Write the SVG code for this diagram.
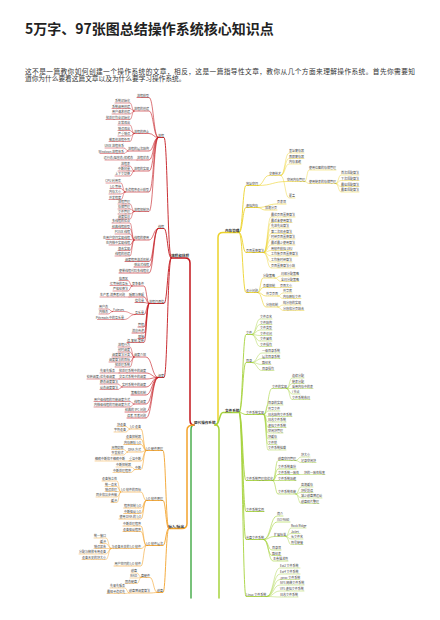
<svg xmlns="http://www.w3.org/2000/svg" width="440" height="620" viewBox="0 0 440 620">
<style>
.t{font-family:"Noto Sans CJK SC","Noto Sans",sans-serif;font-size:3px;fill:#444}
.e{text-anchor:end}
.m{font-size:3.6px;font-weight:700;fill:#333}
.k{fill:none;stroke-linecap:round}
.R{stroke:#c3161c}.O{stroke:#f3a32b}.Y{stroke:#ecd22a}.L{stroke:#a6d33c}.G{stroke:#4caf50}
.w1{stroke-width:1.5}.w2{stroke-width:.9}.w3{stroke-width:.6}.w4{stroke-width:.45}
.hd{font-family:"Noto Sans CJK SC",sans-serif;font-size:14px;font-weight:700;fill:#222}
.p{font-family:"Liberation Sans","Noto Sans CJK SC",sans-serif;font-size:6.7px;fill:#333}
</style>
<rect width="440" height="620" fill="#fff"/>
<g id="title"><text class="hd" x="25" y="34">5万字、97张图总结操作系统核心知识点</text></g>
<g id="intro"><text class="p" x="25" y="73.6" textLength="390" lengthAdjust="spacing">这不是一篇教你如何创建一个操作系统的文章，相反，这是一篇指导性文章，教你从几个方面来理解操作系统。首先你需要知</text><text class="p" x="25" y="80.9">道你为什么要看这篇文章以及为什么要学习操作系统。</text></g>

<g id="connectors" class="k">
<path class="G w1" d="M194 425Q191 425 191 430V598"/>
<path class="L w1" d="M215 425Q219 425 219 430V598"/>
<path class="R w1" d="M194 425Q190 425 190 420V263Q190 258 185 258H171"/>
<path class="O w1" d="M194 425Q187 425 187 430V523.5Q187 528.5 182 528.5H168.5"/>
<path class="Y w1" d="M215 425Q218 425 218 420V237.5Q218 232.5 223 232.5H239.4"/>
<path class="L w1" d="M215 425C220 425 219 412.5 223 412.5H239.4"/>
<path class="R w2" d="M171 258C167.5 258 167.5 137.5 164 137.5H158M171 258C167.5 258 167.5 228.5 164 228.5H158M171 258C167.5 258 167.5 303.5 164 303.5H149M171 258C167.5 258 167.5 377.5 164 377.5H158"/>
<path class="R w3" d="M158 137.5C153.5 137.5 153.5 97.5 149 97.5H137M158 137.5C153.5 137.5 153.5 111 149 111H134M158 137.5C153.5 137.5 153.5 133.5 149 133.5H134M158 137.5C153.5 137.5 153.5 151 149 151H128M158 137.5C153.5 137.5 153.5 160 149 160H137M158 137.5C153.5 137.5 153.5 171 149 171H134M158 137.5C153.5 137.5 153.5 192 149 192H125M158 137.5C153.5 137.5 153.5 211.5 149 211.5H134M158 228.5C153.5 228.5 153.5 240 149 240H134M158 228.5C153.5 228.5 153.5 261.5 149 261.5H125M158 228.5C153.5 228.5 153.5 267 149 267H134M158 228.5C153.5 228.5 153.5 273 149 273H119M149 303.5C146.5 303.5 146.5 286 144 286H132M149 303.5C146.5 303.5 146.5 297 144 297H129M149 303.5C146.5 303.5 146.5 302.5 144 302.5H135M149 303.5C146.5 303.5 146.5 314.5 144 314.5H135M149 303.5C146.5 303.5 146.5 327 144 327H138M149 303.5C146.5 303.5 146.5 333 144 333H132M149 303.5C146.5 303.5 146.5 338.5 144 338.5H138M149 303.5C146.5 303.5 146.5 342.5 144 342.5H127M158 377.5C152 377.5 152 357 146 357H134M158 377.5C152 377.5 152 373 146 373H119M158 377.5C152 377.5 152 379 146 379H119M158 377.5C152 377.5 152 387 146 387H122M158 377.5C152 377.5 152 395 146 395H131M158 377.5C152 377.5 152 404 146 404H134M158 377.5C152 377.5 152 412 146 412H125M158 377.5C152 377.5 152 418 146 418H127"/>
<path class="R w4" d="M134 111C132 111 132 103 130 103H115M134 111C132 111 132 108.5 130 108.5H112M134 111C132 111 132 114 130 114H112M134 111C132 111 132 119.5 130 119.5H106M134 133.5C132 133.5 132 125 130 125H118M134 133.5C132 133.5 132 130.5 130 130.5H118M134 133.5C132 133.5 132 136 130 136H118M134 133.5C132 133.5 132 141.5 130 141.5H109M128 151C126 151 126 148 124 148H105M128 151C126 151 126 153.5 124 153.5H100M137 160H105M134 171C132 171 132 166 130 166H121M134 171H118M134 171C132 171 132 176 130 176H115M125 192C123 192 123 183 121 183H106M125 192C123 192 123 188.5 121 188.5H110M125 192C123 192 123 194 121 194H109M125 192C123 192 123 199.5 121 199.5H109M134 211.5C132 211.5 132 204 130 204H118M134 211.5C132 211.5 132 209 130 209H118M134 211.5C132 211.5 132 214 130 214H118M134 211.5C132 211.5 132 219 130 219H118M134 240C132 240 132 223 130 223H112M134 240C132 240 132 228.5 130 228.5H112M134 240C132 240 132 234 130 234H115M134 240C132 240 132 239.5 130 239.5H106M134 240C132 240 132 245 130 245H109M134 240C132 240 132 250.5 130 250.5H118M134 240C132 240 132 256 130 256H115M132 286C130 286 130 280.5 128 280.5H119M132 286C130 286 130 285.5 128 285.5H110M132 286C130 286 130 291 128 291H113M129 297H100M135 314.5C129.5 314.5 129.5 311.5 124 311.5H112.5M135 314.5C129.5 314.5 129.5 319.5 124 319.5H97.5M112.5 311.5C110.2 311.5 110.2 309 108 309H99M112.5 311.5C110.2 311.5 110.2 314 108 314H99M134 357C132 357 132 347 130 347H118M134 357C132 357 132 352 130 352H118M134 357H112M134 357C132 357 132 362 130 362H109M134 357C132 357 132 367 130 367H115M119 373H100M119 379H87M122 387C120 387 120 384 118 384H100M122 387C120 387 120 389.5 118 389.5H100M134 404C132 404 132 401.5 130 401.5H94M134 404C132 404 132 407 130 407H94"/>
<path class="O w2" d="M168.5 528.5C165.8 528.5 165.8 450.5 163 450.5H146M168.5 528.5C165.8 528.5 165.8 500.5 163 500.5H146M168.5 528.5C165.8 528.5 165.8 545.5 163 545.5H146M168.5 528.5C165.8 528.5 165.8 592.5 163 592.5H157"/>
<path class="O w3" d="M146 450.5C143.5 450.5 143.5 429 141 429H129.7M146 450.5C143.5 450.5 143.5 439 141 439H126M146 450.5C143.5 450.5 143.5 444.5 141 444.5H123.7M146 450.5C143.5 450.5 143.5 452 141 452H127.5M146 450.5C143.5 450.5 143.5 461 141 461H129M146 450.5C143.5 450.5 143.5 469.5 141 469.5H135M146 500.5C143.5 500.5 143.5 492 141 492H120.7M146 500.5C143.5 500.5 143.5 508 141 508H123.7M146 500.5C143.5 500.5 143.5 513.5 141 513.5H123.7M146 500.5C143.5 500.5 143.5 519 141 519H119M146 545.5C143.5 545.5 143.5 526 141 526H123M146 545.5C143.5 545.5 143.5 531.5 141 531.5H123M146 545.5C143.5 545.5 143.5 548.5 141 548.5H111M146 545.5C143.5 545.5 143.5 566 141 566H114M157 592.5C153.5 592.5 153.5 577.5 150 577.5H141M157 592.5C153.5 592.5 153.5 593 150 593H129"/>
<path class="O w4" d="M129.7 429C127.8 429 127.8 426.5 126 426.5H117M129.7 429C127.8 429 127.8 432 126 432H114M127.5 452C125.5 452 125.5 449.5 123.5 449.5H111.5M127.5 452C125.5 452 125.5 455 123.5 455H111.5M129 461H95M135 469.5C133 469.5 133 467 131 467H116M135 469.5C133 469.5 133 472.5 131 472.5H113M120.7 492C118.8 492 118.8 481 117 481H102M120.7 492C118.8 492 118.8 486.5 117 486.5H105M120.7 492C118.8 492 118.8 491.5 117 491.5H105M120.7 492C118.8 492 118.8 497 117 497H96M120.7 492C118.8 492 118.8 502.5 117 502.5H111M111 548.5C108.5 548.5 108.5 538 106 538H94M111 548.5C108.5 548.5 108.5 543.5 106 543.5H100M111 548.5H94M111 548.5C108.5 548.5 108.5 554 106 554H79M111 548.5C108.5 548.5 108.5 559.5 106 559.5H82M141 577.5C139 577.5 139 573 137 573H131M141 577.5C139 577.5 139 578 137 578H130M141 577.5C139 577.5 139 583.5 137 583.5H125M129 593C127 593 127 588 125 588H110M129 593C127 593 127 593.5 125 593.5H107"/>
<path class="Y w2" d="M239.4 232.5C242.7 232.5 242.7 185.5 246 185.5H258M239.4 232.5C242.7 232.5 242.7 207.5 246 207.5H258M239.4 232.5C242.7 232.5 242.7 252.5 246 252.5H264M239.4 232.5C242.7 232.5 242.7 292.5 246 292.5H258"/>
<path class="Y w3" d="M258 185.5C263.5 185.5 263.5 175.5 269 175.5H281M258 185.5C272.5 185.5 272.5 181.5 287 181.5H305M258 207.5C267.5 207.5 267.5 204 277 204H286M258 207.5C261.5 207.5 261.5 210 265 210H277M258 292.5C260.5 292.5 260.5 278 263 278H275M258 292.5C260.5 292.5 260.5 287.5 263 287.5H275M258 292.5C262 292.5 262 296 266 296H278M258 292.5C262 292.5 262 307 266 307H278"/>
<path class="Y w4" d="M281 175.5C285 175.5 285 153 289 153H304M281 175.5C285 175.5 285 158.5 289 158.5H304M281 175.5C285 175.5 285 164 289 164H301M281 175.5C285 175.5 285 198 289 198H295M305 181.5C307 181.5 307 170 309 170H336M305 181.5C307 181.5 307 183.5 309 183.5H336M336 183.5C338.5 183.5 338.5 175 341 175H359M336 183.5C338.5 183.5 338.5 180.5 341 180.5H359M336 183.5C338.5 183.5 338.5 186.5 341 186.5H359M336 183.5C338.5 183.5 338.5 192 341 192H359M264 252.5C267.5 252.5 267.5 217 271 217H295M264 252.5C267.5 252.5 267.5 222.5 271 222.5H292M264 252.5C267.5 252.5 267.5 228 271 228H289M264 252.5C267.5 252.5 267.5 233.5 271 233.5H292M264 252.5C267.5 252.5 267.5 239 271 239H295M264 252.5C267.5 252.5 267.5 245 271 245H295M264 252.5C267.5 252.5 267.5 250.5 271 250.5H292M264 252.5C267.5 252.5 267.5 256 271 256H298M264 252.5C267.5 252.5 267.5 262 271 262H292M264 252.5C267.5 252.5 267.5 268 271 268H295M275 278C278 278 278 276 281 276H299M275 278C278 278 278 281.5 281 281.5H299M275 287.5H292M278 296C280.5 296 280.5 293 283 293H292M278 296C280.5 296 280.5 298.5 283 298.5H301M278 307C280.5 307 280.5 305 283 305H301M278 307C280.5 307 280.5 310.5 283 310.5H304"/>
<path class="L w2" d="M239.4 412.5C242.7 412.5 242.7 334.5 246 334.5H252M239.4 412.5C242.7 412.5 242.7 362.5 246 362.5H252M239.4 412.5C242.7 412.5 242.7 414.5 246 414.5H264M239.4 412.5C242.7 412.5 242.7 480.5 246 480.5H273M239.4 412.5C242.7 412.5 242.7 511.5 246 511.5H264M239.4 412.5C242.7 412.5 242.7 539.5 246 539.5H264M239.4 412.5C242.7 412.5 242.7 596.5 246 596.5H267"/>
<path class="L w3" d="M264 414.5C268 414.5 268 388.5 272 388.5H287M273 480.5C275.5 480.5 275.5 460.5 278 460.5H296M273 480.5C275.5 480.5 275.5 469 278 469H296M273 480.5C275.5 480.5 275.5 474.5 278 474.5H299M273 480.5H296M273 480.5C275.5 480.5 275.5 494 278 494H296M264 539.5C270.5 539.5 270.5 516 277 516H283M264 539.5C270.5 539.5 270.5 522 277 522H290M264 539.5C269 539.5 269 536.5 274 536.5H286M264 539.5C268 539.5 268 550 272 550H281M264 539.5C268 539.5 268 555.5 272 555.5H281M264 539.5C268.5 539.5 268.5 561 273 561H288"/>
<path class="L w4" d="M252 334.5C256 334.5 256 319 260 319H272M252 334.5C256 334.5 256 324.5 260 324.5H272M252 334.5C256 334.5 256 330 260 330H272M252 334.5C256 334.5 256 335.5 260 335.5H272M252 334.5C256 334.5 256 341 260 341H272M252 334.5C256 334.5 256 346.5 260 346.5H272M252 362.5C257 362.5 257 353 262 353H280M252 362.5C257 362.5 257 358.5 262 358.5H280M252 362.5C257 362.5 257 364.5 262 364.5H271M252 362.5C257 362.5 257 370.5 262 370.5H274M264 414.5C266 414.5 266 405 268 405H283M264 414.5C266 414.5 266 411 268 411H280M264 414.5C266 414.5 266 416.5 268 416.5H292M264 414.5C266 414.5 266 422 268 422H286M264 414.5C266 414.5 266 427.5 268 427.5H286M264 414.5C266 414.5 266 433 268 433H283M264 414.5C266 414.5 266 439 268 439H277M264 414.5C266 414.5 266 444.5 268 444.5H277M264 414.5C266 414.5 266 450 268 450H286M287 388.5C289.5 388.5 289.5 378 292 378H304M287 388.5C289.5 388.5 289.5 383.5 292 383.5H304M287 388.5H313M287 388.5C289.5 388.5 289.5 394 292 394H300M287 388.5C289.5 388.5 289.5 399.5 292 399.5H310M296 460.5C298.5 460.5 298.5 457 301 457H310M296 460.5C298.5 460.5 298.5 462.5 301 462.5H316M299 474.5H325M296 494C298.5 494 298.5 487 301 487H313M296 494C298.5 494 298.5 492.5 301 492.5H313M296 494C298.5 494 298.5 498 301 498H322M296 494C298.5 494 298.5 503.5 301 503.5H319M286 536.5C288.5 536.5 288.5 528 291 528H306M286 536.5C288.5 536.5 288.5 533.5 291 533.5H300M286 536.5C288.5 536.5 288.5 539 291 539H303M286 536.5C288.5 536.5 288.5 544.5 291 544.5H303M267 596.5C273.5 596.5 273.5 568 280 568H300M267 596.5C273.5 596.5 273.5 574 280 574H300M267 596.5C273.5 596.5 273.5 579.5 280 579.5H299M267 596.5C273.5 596.5 273.5 585 280 585H304M267 596.5C273.5 596.5 273.5 591 280 591H304M267 596.5C273.5 596.5 273.5 597 280 597H298"/>
</g>

<g id="root"><text class="t m" x="194" y="424.2">现代操作系统</text></g>

<g id="r0"><text class="t m e" x="189" y="257.3">进程和线程</text></g>
<g id="r1"><text class="t e" x="164" y="136.9">进程</text></g>
<g id="r2"><text class="t e" x="164" y="227.9">线程</text></g>
<g id="r3"><text class="t e" x="164" y="302.9">进程间通信</text></g>
<g id="r4"><text class="t e" x="164" y="376.9">调度</text></g>
<g id="r5"><text class="t e" x="149" y="96.9">进程模型</text></g>
<g id="r6"><text class="t e" x="149" y="110.4">进程的创建</text></g>
<g id="r7"><text class="t e" x="149" y="132.9">进程的终止</text></g>
<g id="r8"><text class="t e" x="149" y="150.4">进程的层次结构</text></g>
<g id="r9"><text class="t e" x="149" y="159.4">进程状态</text></g>
<g id="r10"><text class="t e" x="149" y="170.4">进程的实现</text></g>
<g id="r11"><text class="t e" x="149" y="191.4">多道程序设计模型</text></g>
<g id="r12"><text class="t e" x="149" y="210.9">进程控制块</text></g>
<g id="r13"><text class="t e" x="130" y="102.4">系统初始化</text></g>
<g id="r14"><text class="t e" x="130" y="107.9">系统调用创建</text></g>
<g id="r15"><text class="t e" x="130" y="113.4">用户请求创建</text></g>
<g id="r16"><text class="t e" x="130" y="118.9">批处理作业初始化</text></g>
<g id="r17"><text class="t e" x="130" y="124.4">正常退出</text></g>
<g id="r18"><text class="t e" x="130" y="129.9">错误退出</text></g>
<g id="r19"><text class="t e" x="130" y="135.4">严重错误</text></g>
<g id="r20"><text class="t e" x="130" y="140.9">被其他进程杀死</text></g>
<g id="r21"><text class="t e" x="124" y="147.4">UNIX 进程体系</text></g>
<g id="r22"><text class="t e" x="124" y="152.9">Windows 进程体系</text></g>
<g id="r23"><text class="t e" x="133" y="159.4">运行态/阻塞态/就绪态</text></g>
<g id="r24"><text class="t e" x="130" y="165.4">进程表</text></g>
<g id="r25"><text class="t e" x="130" y="170.4">中断向量</text></g>
<g id="r26"><text class="t e" x="130" y="175.4">上下文切换</text></g>
<g id="r27"><text class="t e" x="121" y="182.4">CPU 利用率</text></g>
<g id="r28"><text class="t e" x="121" y="187.9">I/O 等待</text></g>
<g id="r29"><text class="t e" x="121" y="193.4">内存大小</text></g>
<g id="r30"><text class="t e" x="121" y="198.9">并发程度</text></g>
<g id="r31"><text class="t e" x="130" y="203.4">进程管理</text></g>
<g id="r32"><text class="t e" x="130" y="208.4">存储管理</text></g>
<g id="r33"><text class="t e" x="130" y="213.4">文件管理</text></g>
<g id="r34"><text class="t e" x="130" y="218.4">调度信息</text></g>
<g id="r35"><text class="t e" x="149" y="239.4">线程的使用</text></g>
<g id="r36"><text class="t e" x="149" y="260.9">调度程序激活机制</text></g>
<g id="r37"><text class="t e" x="149" y="266.4">弹出式线程</text></g>
<g id="r38"><text class="t e" x="149" y="272.4">使单线程代码多线程化</text></g>
<g id="r39"><text class="t e" x="130" y="222.4">多线程的优点</text></g>
<g id="r40"><text class="t e" x="130" y="227.9">经典线程模型</text></g>
<g id="r41"><text class="t e" x="130" y="233.4">POSIX 线程</text></g>
<g id="r42"><text class="t e" x="130" y="238.9">在用户空间实现线程</text></g>
<g id="r43"><text class="t e" x="130" y="244.4">在内核中实现线程</text></g>
<g id="r44"><text class="t e" x="130" y="249.9">混合实现</text></g>
<g id="r45"><text class="t e" x="130" y="255.4">线程的创建</text></g>
<g id="r46"><text class="t e" x="144" y="285.4">竞争条件</text></g>
<g id="r47"><text class="t e" x="144" y="296.4">睡眠与唤醒</text></g>
<g id="r48"><text class="t e" x="144" y="301.9">信号量</text></g>
<g id="r49"><text class="t e" x="144" y="313.9">互斥量</text></g>
<g id="r50"><text class="t e" x="144" y="326.4">管程</text></g>
<g id="r51"><text class="t e" x="144" y="332.4">消息传递</text></g>
<g id="r52"><text class="t e" x="144" y="337.9">屏障</text></g>
<g id="r53"><text class="t e" x="144" y="341.9">读-复制-更新</text></g>
<g id="r54"><text class="t e" x="128" y="279.9">临界区</text></g>
<g id="r55"><text class="t e" x="128" y="284.9">忙等待的互斥</text></g>
<g id="r56"><text class="t e" x="128" y="290.4">严格轮换法</text></g>
<g id="r57"><text class="t e" x="125" y="296.4">生产者-消费者问题</text></g>
<g id="r58"><text class="t e" x="124" y="310.9">Futexes</text></g>
<g id="r59"><text class="t e" x="124" y="318.9">Pthreads 中的互斥量</text></g>
<g id="r60"><text class="t e" x="108" y="308.4">用户态</text></g>
<g id="r61"><text class="t e" x="108" y="313.4">内核态</text></g>
<g id="r62"><text class="t e" x="146" y="356.4">调度介绍</text></g>
<g id="r63"><text class="t e" x="146" y="372.4">批处理系统中的调度</text></g>
<g id="r64"><text class="t e" x="146" y="378.4">交互式系统中的调度</text></g>
<g id="r65"><text class="t e" x="146" y="386.4">实时系统中的调度</text></g>
<g id="r66"><text class="t e" x="146" y="394.4">策略和机制</text></g>
<g id="r67"><text class="t e" x="146" y="403.4">线程调度</text></g>
<g id="r68"><text class="t e" x="146" y="411.4">经典的 IPC 问题</text></g>
<g id="r69"><text class="t e" x="146" y="417.4">读者-写者问题</text></g>
<g id="r70"><text class="t e" x="130" y="346.4">进程行为</text></g>
<g id="r71"><text class="t e" x="130" y="351.4">何时调度</text></g>
<g id="r72"><text class="t e" x="130" y="356.4">调度算法分类</text></g>
<g id="r73"><text class="t e" x="130" y="361.4">调度算法的目标</text></g>
<g id="r74"><text class="t e" x="130" y="366.4">批处理系统</text></g>
<g id="r75"><text class="t e" x="115" y="372.4">先来先服务</text></g>
<g id="r76"><text class="t e" x="115" y="378.4">轮转调度/优先级调度</text></g>
<g id="r77"><text class="t e" x="118" y="383.4">静态调度算法</text></g>
<g id="r78"><text class="t e" x="118" y="388.9">动态调度算法</text></g>
<g id="r79"><text class="t e" x="130" y="400.9">用户级线程的可能调度方式</text></g>
<g id="r80"><text class="t e" x="130" y="406.4">内核级线程的可能调度方式</text></g>

<g id="o0"><text class="t m e" x="184" y="527.8">输入/输出</text></g>
<g id="o1"><text class="t e" x="163" y="449.9">I/O 硬件原理</text></g>
<g id="o2"><text class="t e" x="163" y="499.9">I/O 软件原理</text></g>
<g id="o3"><text class="t e" x="163" y="544.9">I/O 软件层次</text></g>
<g id="o4"><text class="t e" x="163" y="591.9">磁盘</text></g>
<g id="o5"><text class="t e" x="141" y="428.4">I/O 设备</text></g>
<g id="o6"><text class="t e" x="141" y="438.4">设备控制器</text></g>
<g id="o7"><text class="t e" x="141" y="443.9">内存映射 I/O</text></g>
<g id="o8"><text class="t e" x="141" y="451.4">DMA 方式</text></g>
<g id="o9"><text class="t e" x="141" y="460.4">重温中断</text></g>
<g id="o10"><text class="t e" x="141" y="468.9">中断</text></g>
<g id="o11"><text class="t e" x="126" y="425.9">块设备</text></g>
<g id="o12"><text class="t e" x="126" y="431.4">字符设备</text></g>
<g id="o13"><text class="t e" x="123.5" y="448.9">周期窃取</text></g>
<g id="o14"><text class="t e" x="123.5" y="454.4">突发模式</text></g>
<g id="o15"><text class="t e" x="125" y="460.4">精确中断和不精确中断</text></g>
<g id="o16"><text class="t e" x="131" y="466.4">中断控制器</text></g>
<g id="o17"><text class="t e" x="131" y="471.9">中断处理程序</text></g>
<g id="o18"><text class="t e" x="141" y="491.4">I/O 软件的目标</text></g>
<g id="o19"><text class="t e" x="141" y="507.4">程序控制 I/O</text></g>
<g id="o20"><text class="t e" x="141" y="512.9">中断驱动 I/O</text></g>
<g id="o21"><text class="t e" x="141" y="518.4">使用 DMA 的 I/O</text></g>
<g id="o22"><text class="t e" x="117" y="480.4">设备独立性</text></g>
<g id="o23"><text class="t e" x="117" y="485.9">统一命名</text></g>
<g id="o24"><text class="t e" x="117" y="490.9">错误处理</text></g>
<g id="o25"><text class="t e" x="117" y="496.4">同步和异步传输</text></g>
<g id="o26"><text class="t e" x="117" y="501.9">缓冲</text></g>
<g id="o27"><text class="t e" x="141" y="525.4">中断处理程序</text></g>
<g id="o28"><text class="t e" x="141" y="530.9">设备驱动程序</text></g>
<g id="o29"><text class="t e" x="141" y="547.9">与设备无关的 I/O 软件</text></g>
<g id="o30"><text class="t e" x="141" y="565.4">用户空间的 I/O 软件</text></g>
<g id="o31"><text class="t e" x="106" y="537.4">统一接口</text></g>
<g id="o32"><text class="t e" x="106" y="542.9">缓冲</text></g>
<g id="o33"><text class="t e" x="106" y="547.9">错误报告</text></g>
<g id="o34"><text class="t e" x="106" y="553.4">分配与释放专用设备</text></g>
<g id="o35"><text class="t e" x="106" y="558.9">设备无关的块大小</text></g>
<g id="o36"><text class="t e" x="150" y="576.9">盘硬件</text></g>
<g id="o37"><text class="t e" x="150" y="592.4">磁盘臂调度算法</text></g>
<g id="o38"><text class="t e" x="137" y="572.4">磁盘</text></g>
<g id="o39"><text class="t e" x="137" y="577.4">RAID</text></g>
<g id="o40"><text class="t e" x="137" y="582.9">固态硬盘</text></g>
<g id="o41"><text class="t e" x="125" y="587.4">先来先服务</text></g>
<g id="o42"><text class="t e" x="125" y="592.9">最短寻道优先</text></g>

<g id="y0"><text class="t m" x="225" y="231.8">内存管理</text></g>
<g id="y1"><text class="t" x="246" y="184.9">地址空间</text></g>
<g id="y2"><text class="t" x="246" y="206.9">虚拟内存</text></g>
<g id="y3"><text class="t" x="246" y="251.9">页面置换算法</text></g>
<g id="y4"><text class="t" x="246" y="291.9">设计问题</text></g>
<g id="y5"><text class="t" x="269" y="174.9">交换技术</text></g>
<g id="y6"><text class="t" x="287" y="180.9">空闲内存管理</text></g>
<g id="y7"><text class="t" x="289" y="152.4">基址寄存器</text></g>
<g id="y8"><text class="t" x="289" y="157.9">界限寄存器</text></g>
<g id="y9"><text class="t" x="289" y="163.4">内存紧缩</text></g>
<g id="y10"><text class="t" x="289" y="197.4">覆盖</text></g>
<g id="y11"><text class="t" x="309" y="169.4">使用位图的存储管理</text></g>
<g id="y12"><text class="t" x="309" y="182.9">使用链表的存储管理</text></g>
<g id="y13"><text class="t" x="341" y="174.4">首次适配算法</text></g>
<g id="y14"><text class="t" x="341" y="179.9">下次适配算法</text></g>
<g id="y15"><text class="t" x="341" y="185.9">最佳适配算法</text></g>
<g id="y16"><text class="t" x="341" y="191.4">最差适配算法</text></g>
<g id="y17"><text class="t" x="277" y="203.4">页表项</text></g>
<g id="y18"><text class="t" x="265" y="209.4">加速分页</text></g>
<g id="y19"><text class="t" x="271" y="216.4">最优页面置换算法</text></g>
<g id="y20"><text class="t" x="271" y="221.9">最近未使用算法</text></g>
<g id="y21"><text class="t" x="271" y="227.4">先进先出算法</text></g>
<g id="y22"><text class="t" x="271" y="232.9">第二次机会算法</text></g>
<g id="y23"><text class="t" x="271" y="238.4">时钟页面置换算法</text></g>
<g id="y24"><text class="t" x="271" y="244.4">最近最少使用算法</text></g>
<g id="y25"><text class="t" x="271" y="249.9">用软件模拟 LRU</text></g>
<g id="y26"><text class="t" x="271" y="255.4">工作集页面置换算法</text></g>
<g id="y27"><text class="t" x="271" y="261.4">工作集时钟算法</text></g>
<g id="y28"><text class="t" x="271" y="267.4">页面置换算法小结</text></g>
<g id="y29"><text class="t" x="263" y="277.4">分配策略</text></g>
<g id="y30"><text class="t" x="263" y="286.9">负载控制</text></g>
<g id="y31"><text class="t" x="266" y="295.4">共享页面</text></g>
<g id="y32"><text class="t" x="266" y="306.4">分段机制</text></g>
<g id="y33"><text class="t" x="281" y="275.4">局部分配策略</text></g>
<g id="y34"><text class="t" x="281" y="280.9">全局分配策略</text></g>
<g id="y35"><text class="t" x="280" y="286.9">页面大小</text></g>
<g id="y36"><text class="t" x="283" y="292.4">共享库</text></g>
<g id="y37"><text class="t" x="283" y="297.9">内存映射文件</text></g>
<g id="y38"><text class="t" x="283" y="304.4">纯分段的实现</text></g>
<g id="y39"><text class="t" x="283" y="309.9">分段和分页结合</text></g>

<g id="l0"><text class="t m" x="225" y="411.8">文件系统</text></g>
<g id="l1"><text class="t" x="246" y="333.9">文件</text></g>
<g id="l2"><text class="t" x="246" y="361.9">目录</text></g>
<g id="l3"><text class="t" x="246" y="413.9">文件系统实现</text></g>
<g id="l4"><text class="t" x="246" y="479.9">文件系统管理和优化</text></g>
<g id="l5"><text class="t" x="246" y="510.9">文件系统实例</text></g>
<g id="l6"><text class="t" x="246" y="538.9">光盘文件系统</text></g>
<g id="l7"><text class="t" x="246" y="595.9">Linux 文件系统</text></g>
<g id="l8"><text class="t" x="260" y="318.4">文件命名</text></g>
<g id="l9"><text class="t" x="260" y="323.9">文件结构</text></g>
<g id="l10"><text class="t" x="260" y="329.4">文件类型</text></g>
<g id="l11"><text class="t" x="260" y="334.9">文件访问</text></g>
<g id="l12"><text class="t" x="260" y="340.4">文件属性</text></g>
<g id="l13"><text class="t" x="260" y="345.9">文件操作</text></g>
<g id="l14"><text class="t" x="262" y="352.4">一级目录系统</text></g>
<g id="l15"><text class="t" x="262" y="357.9">层次目录系统</text></g>
<g id="l16"><text class="t" x="262" y="363.9">路径名</text></g>
<g id="l17"><text class="t" x="262" y="369.9">目录操作</text></g>
<g id="l18"><text class="t" x="272" y="387.9">文件的实现</text></g>
<g id="l19"><text class="t" x="292" y="377.4">连续分配</text></g>
<g id="l20"><text class="t" x="292" y="382.9">链表分配</text></g>
<g id="l21"><text class="t" x="292" y="387.9">采用内存中的表</text></g>
<g id="l22"><text class="t" x="292" y="393.4">i 节点</text></g>
<g id="l23"><text class="t" x="292" y="398.9">文件系统布局</text></g>
<g id="l24"><text class="t" x="268" y="404.4">目录的实现</text></g>
<g id="l25"><text class="t" x="268" y="410.4">共享文件</text></g>
<g id="l26"><text class="t" x="268" y="415.9">日志结构文件系统</text></g>
<g id="l27"><text class="t" x="268" y="421.4">日志文件系统</text></g>
<g id="l28"><text class="t" x="268" y="426.9">虚拟文件系统</text></g>
<g id="l29"><text class="t" x="268" y="432.4">空闲块管理</text></g>
<g id="l30"><text class="t" x="268" y="438.4">块缓存</text></g>
<g id="l31"><text class="t" x="268" y="443.9">文件锁</text></g>
<g id="l32"><text class="t" x="268" y="449.4">文件系统挂载</text></g>
<g id="l33"><text class="t" x="278" y="459.9">磁盘空间管理</text></g>
<g id="l34"><text class="t" x="278" y="468.4">文件系统备份</text></g>
<g id="l35"><text class="t" x="278" y="473.9">文件系统一致性</text></g>
<g id="l36"><text class="t" x="278" y="479.9">文件系统压缩</text></g>
<g id="l37"><text class="t" x="278" y="493.4">文件系统性能</text></g>
<g id="l38"><text class="t" x="301" y="456.4">块大小</text></g>
<g id="l39"><text class="t" x="301" y="461.9">记录空闲块</text></g>
<g id="l40"><text class="t" x="304" y="473.9">块的一致性检查</text></g>
<g id="l41"><text class="t" x="301" y="486.4">高速缓存</text></g>
<g id="l42"><text class="t" x="301" y="491.9">块提前读</text></g>
<g id="l43"><text class="t" x="301" y="497.4">减少磁盘臂运动</text></g>
<g id="l44"><text class="t" x="301" y="502.9">磁盘碎片整理</text></g>
<g id="l45"><text class="t" x="277" y="515.4">简介</text></g>
<g id="l46"><text class="t" x="277" y="521.4">ISO 9660</text></g>
<g id="l47"><text class="t" x="274" y="535.9">扩展标准</text></g>
<g id="l48"><text class="t" x="272" y="549.4">目录项</text></g>
<g id="l49"><text class="t" x="272" y="554.9">路径表</text></g>
<g id="l50"><text class="t" x="273" y="560.4">主卷描述符</text></g>
<g id="l51"><text class="t" x="291" y="527.4">Rock Ridge</text></g>
<g id="l52"><text class="t" x="291" y="532.9">Joliet</text></g>
<g id="l53"><text class="t" x="291" y="538.4">长文件名</text></g>
<g id="l54"><text class="t" x="291" y="543.9">符号链接</text></g>
<g id="l55"><text class="t" x="280" y="567.4">Ext2 文件系统</text></g>
<g id="l56"><text class="t" x="280" y="573.4">Ext4 文件系统</text></g>
<g id="l57"><text class="t" x="280" y="578.9">/proc 文件系统</text></g>
<g id="l58"><text class="t" x="280" y="584.4">NFS 网络文件系统</text></g>
<g id="l59"><text class="t" x="280" y="590.4">VFS 虚拟文件系统</text></g>
<g id="l60"><text class="t" x="280" y="596.4">日志文件系统</text></g>
</svg>
